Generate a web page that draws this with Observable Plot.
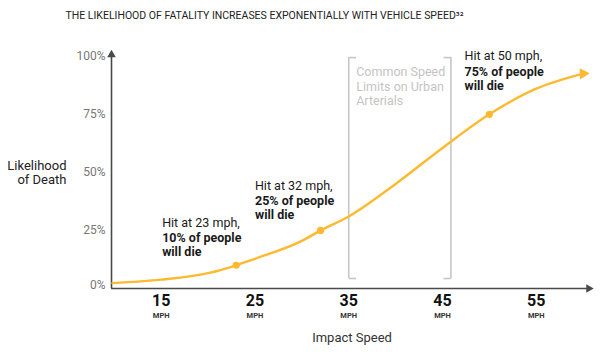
<!DOCTYPE html>
<html>
<head>
<meta charset="utf-8">
<script src="https://cdn.jsdelivr.net/npm/d3@7"></script>
<script src="https://cdn.jsdelivr.net/npm/@observablehq/plot@0.6"></script>
<style>
  html, body { margin: 0; padding: 0; background: #fff; }
  #chart svg { display: block; }
</style>
</head>
<body>
<div id="chart"></div>
<script>
// Curve of likelihood of death (%) by impact speed (mph)
const speeds = [9.8, 15, 20, 23, 25, 30, 32, 35, 40, 45, 50, 55, 60];
const likelihood = [2.3, 3.8, 6.6, 10, 12.8, 20.5, 25, 31, 45, 60.5, 75, 86, 92.5];

// Highlighted points
const hitSpeeds = [23, 32, 50];
const hitPct = [10, 25, 75];

// Speed-limit bracket (mph)
const bracketSpeeds = [35, 45.9];
const bracketLabel = "Common Speed\nLimits on Urban\nArterials";

// Tick labels
const xTicks = [15, 25, 35, 45, 55];
const yTicks = [0, 25, 50, 75, 100];

const title = "THE LIKELIHOOD OF FATALITY INCREASES EXPONENTIALLY WITH VEHICLE SPEED\u00B3\u00B2";
const xLabel = "Impact Speed";
const yLabel = "Likelihood\nof Death";

const curve = speeds.map((s, i) => ({speed: s, pct: likelihood[i]}));
const hits = hitSpeeds.map((s, i) => ({speed: s, pct: hitPct[i]}));

// annotation layout (positions in data units)
const annoPos = [
  {x: 15.1, yTop: 28.1, yBold: 19.1},
  {x: 25.0, yTop: 44.3, yBold: 34.7},
  {x: 47.35, yTop: 99.9, yBold: 90.5}
];
const annos = hits.map((h, i) => ({
  ...annoPos[i],
  top: `Hit at ${h.speed} mph,`,
  bold: `${h.pct}% of people\nwill die`
}));

const yellow = "#FDB92F";
const axisColor = "#4a4a4a";
const bracketColor = "#c6c6c6";

const chart = Plot.plot({
  width: 605,
  height: 352,
  marginLeft: 111,
  marginRight: 13,
  marginTop: 55.7,
  marginBottom: 64,
  x: {domain: [9.7, 61], axis: null},
  y: {domain: [0, 100], axis: null},
  style: {fontFamily: "Roboto, 'Liberation Sans', sans-serif", background: "#fff", color: "#222"},
  marks: [
    // y tick labels
    Plot.axisY({ticks: yTicks.filter(d => d > 0), tickFormat: d => d + "%", tickSize: 0, tickPadding: 6, fontSize: 12, fill: "#777", label: null}),
    Plot.axisY({ticks: yTicks.filter(d => d === 0), tickFormat: d => d + "%", tickSize: 0, tickPadding: 6, dy: -3, fontSize: 12, fill: "#777", label: null}),
    // bracket
    Plot.ruleX(bracketSpeeds, {y1: 4.3, y2: 99.4, stroke: bracketColor, strokeWidth: 1.6}),
    Plot.link(bracketSpeeds, {x1: d => d, x2: (d, i) => i === 0 ? d + 0.78 : d - 0.78, y1: 99.4, y2: 99.4, stroke: bracketColor, strokeWidth: 1.6}),
    Plot.link(bracketSpeeds, {x1: d => d, x2: (d, i) => i === 0 ? d + 0.78 : d - 0.78, y1: 4.3, y2: 4.3, stroke: bracketColor, strokeWidth: 1.6}),
    Plot.text([bracketLabel], {x: bracketSpeeds[0], y: 87.2, dx: 7.5, textAnchor: "start", lineAnchor: "middle", lineHeight: 1.16, fontSize: 12.5, fill: "#c4c4c4"}),
    // axes lines
    Plot.ruleY([0], {x1: 9.7, x2: 60.5, stroke: axisColor, strokeWidth: 1.6}),
    Plot.ruleX([9.7], {y1: 0, y2: 100.5, stroke: axisColor, strokeWidth: 1.6}),
    Plot.dot([{x: 60.6, y: 0}], {x: "x", y: "y", symbol: "triangle", rotate: 90, r: 3.2, fill: axisColor, stroke: null}),
    Plot.dot([{x: 9.7, y: 100.6}], {x: "x", y: "y", symbol: "triangle", r: 3.2, fill: axisColor, stroke: null}),
    // curve
    Plot.line(curve, {x: "speed", y: "pct", curve: "monotone-x", stroke: yellow, strokeWidth: 2.4}),
    Plot.dot(curve.slice(-1), {x: "speed", y: "pct", symbol: "triangle", rotate: 87, r: 4.2, fill: yellow, stroke: null}),
    Plot.dot(hits, {x: "speed", y: "pct", r: 3.6, fill: yellow, stroke: null}),
    // annotations
    Plot.text(annos, {x: "x", y: "yTop", text: "top", textAnchor: "start", lineAnchor: "middle", fontSize: 12.5, fill: "#1a1a1a"}),
    Plot.text(annos, {x: "x", y: "yBold", text: "bold", textAnchor: "start", lineAnchor: "middle", lineHeight: 1.12, fontSize: 12.5, fontWeight: "bold", fill: "#1a1a1a"}),
    // x tick labels
    Plot.text(xTicks, {x: d => d, frameAnchor: "bottom", dy: 17, fontSize: 16, fontWeight: "bold", fill: "#111"}),
    Plot.text(xTicks, {x: d => d, text: () => "MPH", frameAnchor: "bottom", dy: 29.5, fontSize: 7.5, fontWeight: "bold", fill: "#333"}),
    // axis titles
    Plot.text([xLabel], {frameAnchor: "bottom", dy: 53, fontSize: 13, fill: "#333"}),
    Plot.text([yLabel], {frameAnchor: "left", dx: -45, textAnchor: "end", lineAnchor: "middle", lineHeight: 1.13, fontSize: 13, fill: "#222"}),
    // title
    Plot.text([title], {frameAnchor: "top-left", dx: -46, dy: -40.7, textAnchor: "start", lineAnchor: "middle", fontSize: 10.5, fill: "#222"})
  ]
});
document.getElementById("chart").appendChild(chart);
</script>
</body>
</html>
